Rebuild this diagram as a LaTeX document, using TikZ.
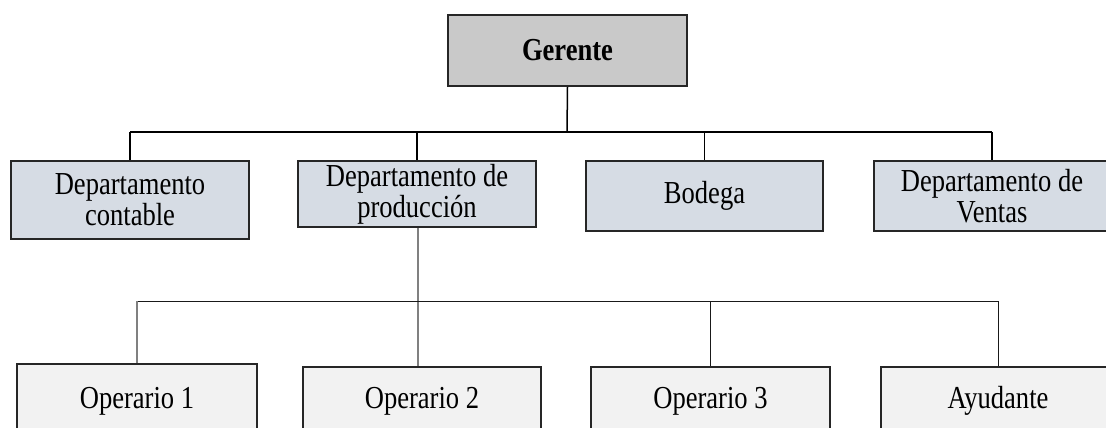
\documentclass[tikz,border=0pt]{standalone}
\usepackage{fontspec}
\setmainfont{Liberation Serif}[FakeStretch=0.83]
\begin{document}
\begin{tikzpicture}[x=1pt,y=-1pt,
  box/.style={draw=black!85, line width=1.6pt, rectangle, inner sep=0pt, align=center,
    font=\fontsize{32}{31}\selectfont},
  topbox/.style={box, fill=black!21},
  deptbox/.style={box, fill={rgb,255:red,214;green,220;blue,228}},
  opbox/.style={box, fill=black!5},
  conn/.style={draw=black, line width=1.5pt},
  thinconn/.style={draw=black!90, line width=0.9pt},
  grayconn/.style={draw=black!50, line width=1.2pt}
]
\useasboundingbox (0,0) rectangle (1106,428);
\clip (0,0) rectangle (1106,428);

\node[topbox, minimum width=239pt, minimum height=71pt] (ger) at (567.5,50.5) {\textbf{Gerente}};

\node[deptbox, minimum width=238pt, minimum height=78pt] (cont) at (130,200) {Departamento\\contable};
\node[deptbox, minimum width=238pt, minimum height=66pt] (prod) at (417,194) {Departamento de\\producción};
\node[deptbox, minimum width=237pt, minimum height=70pt] (bod) at (704.5,196) {Bodega};
\node[deptbox, minimum width=236pt, minimum height=70pt] (ven) at (992,196) {Departamento de\\Ventas};

\node[opbox, minimum width=240pt, minimum height=74pt] (op1) at (137,401) {Operario 1};
\node[opbox, minimum width=238pt, minimum height=68pt] (op2) at (422,401) {Operario 2};
\node[opbox, minimum width=239pt, minimum height=68pt] (op3) at (710.5,401) {Operario 3};
\node[opbox, minimum width=234pt, minimum height=68pt] (ayu) at (998,401) {Ayudante};

\coordinate (hub) at (567,132);
\coordinate (hubb) at (418,301);

\draw[conn] (ger.south) -- (hub);
\draw[conn] (cont.north |- hub) -- (ven.north |- hub);
\draw[conn] (cont.north |- hub) -- (cont.north);
\draw[conn] (prod.north |- hub) -- (prod.north);
\draw[conn] (bod.north |- hub) -- (bod.north);
\draw[conn] (ven.north |- hub) -- (ven.north);

\draw[grayconn] (prod.south -| hubb) -- (op2.north -| hubb);
\draw[thinconn] (op1.north |- hubb) -- (ayu.north |- hubb);
\draw[grayconn] (op1.north |- hubb) -- (op1.north);
\draw[thinconn] (op3.north |- hubb) -- (op3.north);
\draw[thinconn] (ayu.north |- hubb) -- (ayu.north);
\end{tikzpicture}
\end{document}
